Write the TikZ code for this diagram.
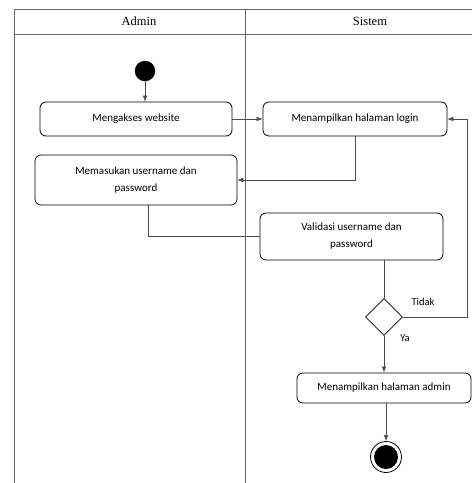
\documentclass[tikz,border=0pt]{standalone}
\usepackage{fontspec}
\setmainfont{Liberation Serif}
\newfontfamily\boxfont{Carlito}
\usetikzlibrary{calc}
\usetikzlibrary{positioning}
\usetikzlibrary{shapes.geometric}
\usetikzlibrary{arrows.meta}
\tikzstyle{actnode} = [draw, line width=0.8pt, rounded corners=6pt, align=center, inner sep=2pt, font=\boxfont\fontsize{11}{17}\selectfont]
\tikzstyle{decnode} = [draw, line width=0.8pt, diamond, minimum width=37pt, minimum height=37pt, inner sep=0pt]
\tikzstyle{flow} = [draw=black!70, -{Latex[length=6pt,width=4.5pt]}]
\tikzstyle{plain} = [draw=black!70]
\tikzstyle{lane} = [draw=black!60, line width=0.6pt]
\tikzstyle{lanehead} = [font=\fontsize{12.5}{14}\selectfont]
\tikzstyle{guard} = [font=\boxfont\fontsize{10.5}{12}\selectfont]

\begin{document}
\begin{tikzpicture}[x=1pt, y=-1pt]
\useasboundingbox (0,0) rectangle (472,483);
% swimlanes
\draw[lane] (14,483) -- (14,9) -- (472,9);
\draw[lane] (14,34) -- (472,34);
\draw[lane] (245,9) -- (245,483);
\node[lanehead] (lane_admin) at (139,21) {Admin};
\node[lanehead] (lane_sistem) at (370,21) {Sistem};

\node[draw, circle, fill=black, minimum size=20pt, inner sep=0pt] (start) at (145,71) {};
\node[actnode, minimum width=192pt, minimum height=34pt] (akses) at (136,119) {Mengakses website};
\node[actnode, minimum width=184pt, minimum height=34pt] (login) at (355,119) {Menampilkan halaman login};
\node[actnode, minimum width=202pt, minimum height=50pt] (memasukan) at (136,180) {Memasukan username dan\\password};
\node[actnode, minimum width=183pt, minimum height=47pt] (validasi) at (351.5,236.5) {Validasi username dan\\password};
\node[decnode] (cek) at (384,317) {};
\node[actnode, minimum width=174pt, minimum height=30pt] (admin) at (384,388) {Menampilkan halaman admin};
\node[draw, line width=0.8pt, circle, minimum size=31pt, inner sep=0pt] (finish) at (386,457) {};
\node[circle, fill=black, minimum size=24pt, inner sep=0pt] (finish_dot) at (finish) {};
\coordinate (balik) at (467,317);

\draw[flow] (start) -- (start |- akses.north);
\draw[flow] (akses) -- (login);
\draw[flow] (login.south) |- (memasukan.east);
\draw[plain] ($(memasukan.south)+(12,0)$) |- (validasi.west);
\draw[plain] (validasi.south -| cek) -- (cek.north);
\draw[flow] (cek.east) -- (balik) |- (login.east);
\draw[flow] (cek.south) -- (cek.south |- admin.north);
\draw[flow] (admin.south -| finish) -- (finish.north);

\node[guard] (tidak) at (423,302) {Tidak};
\node[guard] (ya) at (405,338) {Ya};
\end{tikzpicture}
\end{document}
